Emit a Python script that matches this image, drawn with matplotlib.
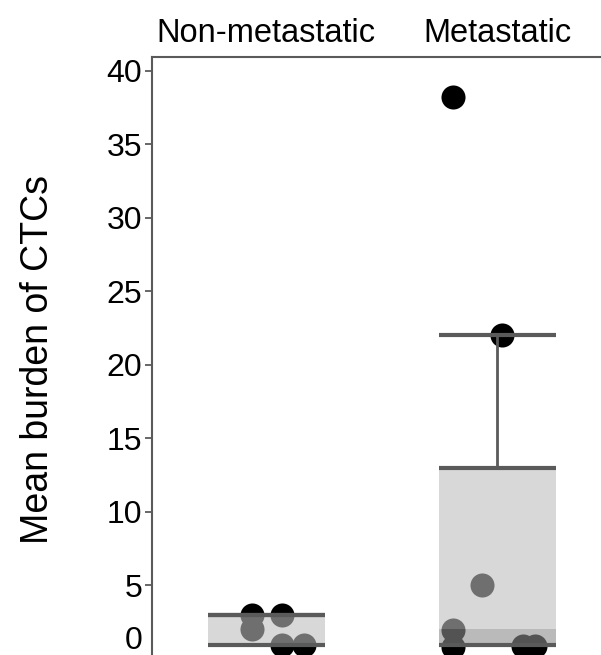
import numpy as np
import matplotlib
matplotlib.use("Agg")
import matplotlib.pyplot as plt

plt.rcParams['font.family'] = ['Liberation Sans', 'DejaVu Sans']

# Data
groups = ['Non-metastatic', 'Metastatic']
lower_hinge = [0.95, 0.95]
band_top = [0.95, 2.0]          # darker shaded strip at the box bottom
upper_hinge = [3.0, 13.0]
upper_whisker = [3.0, 22.0]

nm_x = [-0.06, -0.06, 0.07, 0.07, 0.165]
nm_y = [3.0, 2.0, 3.0, 0.9, 0.9]
met_x = [-0.19, 0.02, -0.065, -0.19, -0.19, 0.11, 0.165]
met_y = [38.2, 22.0, 5.0, 1.97, 0.8, 0.85, 0.85]

y_ticks = [1.45, 5, 10, 15, 20, 25, 30, 35, 40]
y_tick_labels = ['0', '5', '10', '15', '20', '25', '30', '35', '40']

line_col = '#5a5a5a'
box_w = 0.506

fig = plt.figure(figsize=(6.01, 6.55), dpi=100)
ax = fig.add_axes([152 / 601, -0.0504, 484 / 601, 0.9634])

# points first, the translucent box goes over them
pos = np.arange(len(groups))
ax.scatter(pos[0] + np.array(nm_x), nm_y, s=300, color='black', linewidths=0, zorder=1)
ax.scatter(pos[1] + np.array(met_x), met_y, s=300, color='black', linewidths=0, zorder=1)

lo = np.array(lower_hinge)
bt = np.array(band_top)
hi = np.array(upper_hinge)
wh = np.array(upper_whisker)

ax.bar(pos, hi - bt, bottom=bt, width=box_w, color='#bebebe', alpha=0.59,
       linewidth=0, zorder=2)
ax.bar(pos, bt - lo, bottom=lo, width=box_w, color='#8c8c8c', alpha=0.6,
       linewidth=0, zorder=2)

for p, a, b, c in zip(pos, lo, hi, wh):
    ax.hlines([a, b, c], p - box_w / 2, p + box_w / 2, color=line_col, lw=3, zorder=3)
    if c > b:
        ax.vlines(p, b, c, color=line_col, lw=2, zorder=3)

ax.set_xlim(-0.494, 1.6)
ax.set_ylim(-2, 40.95)

ax.xaxis.tick_top()
ax.set_xticks(pos)
ax.set_xticklabels(groups, fontsize=23.5)
ax.tick_params(axis='x', length=0, pad=6)

ax.set_yticks(y_ticks)
ax.set_yticklabels(y_tick_labels, fontsize=23)
ax.tick_params(axis='y', length=5, width=1.3, color=line_col, pad=2)
ax.yaxis.get_major_ticks()[0].tick1line.set_visible(False)

for side in ['left', 'top', 'right', 'bottom']:
    ax.spines[side].set_color(line_col)
    ax.spines[side].set_linewidth(1.5)

fig.text(38 / 601, 1 - 359 / 655, 'Mean burden of CTCs', rotation=90,
         ha='center', va='center', fontsize=27)

fig.savefig('out.png', dpi=100)
